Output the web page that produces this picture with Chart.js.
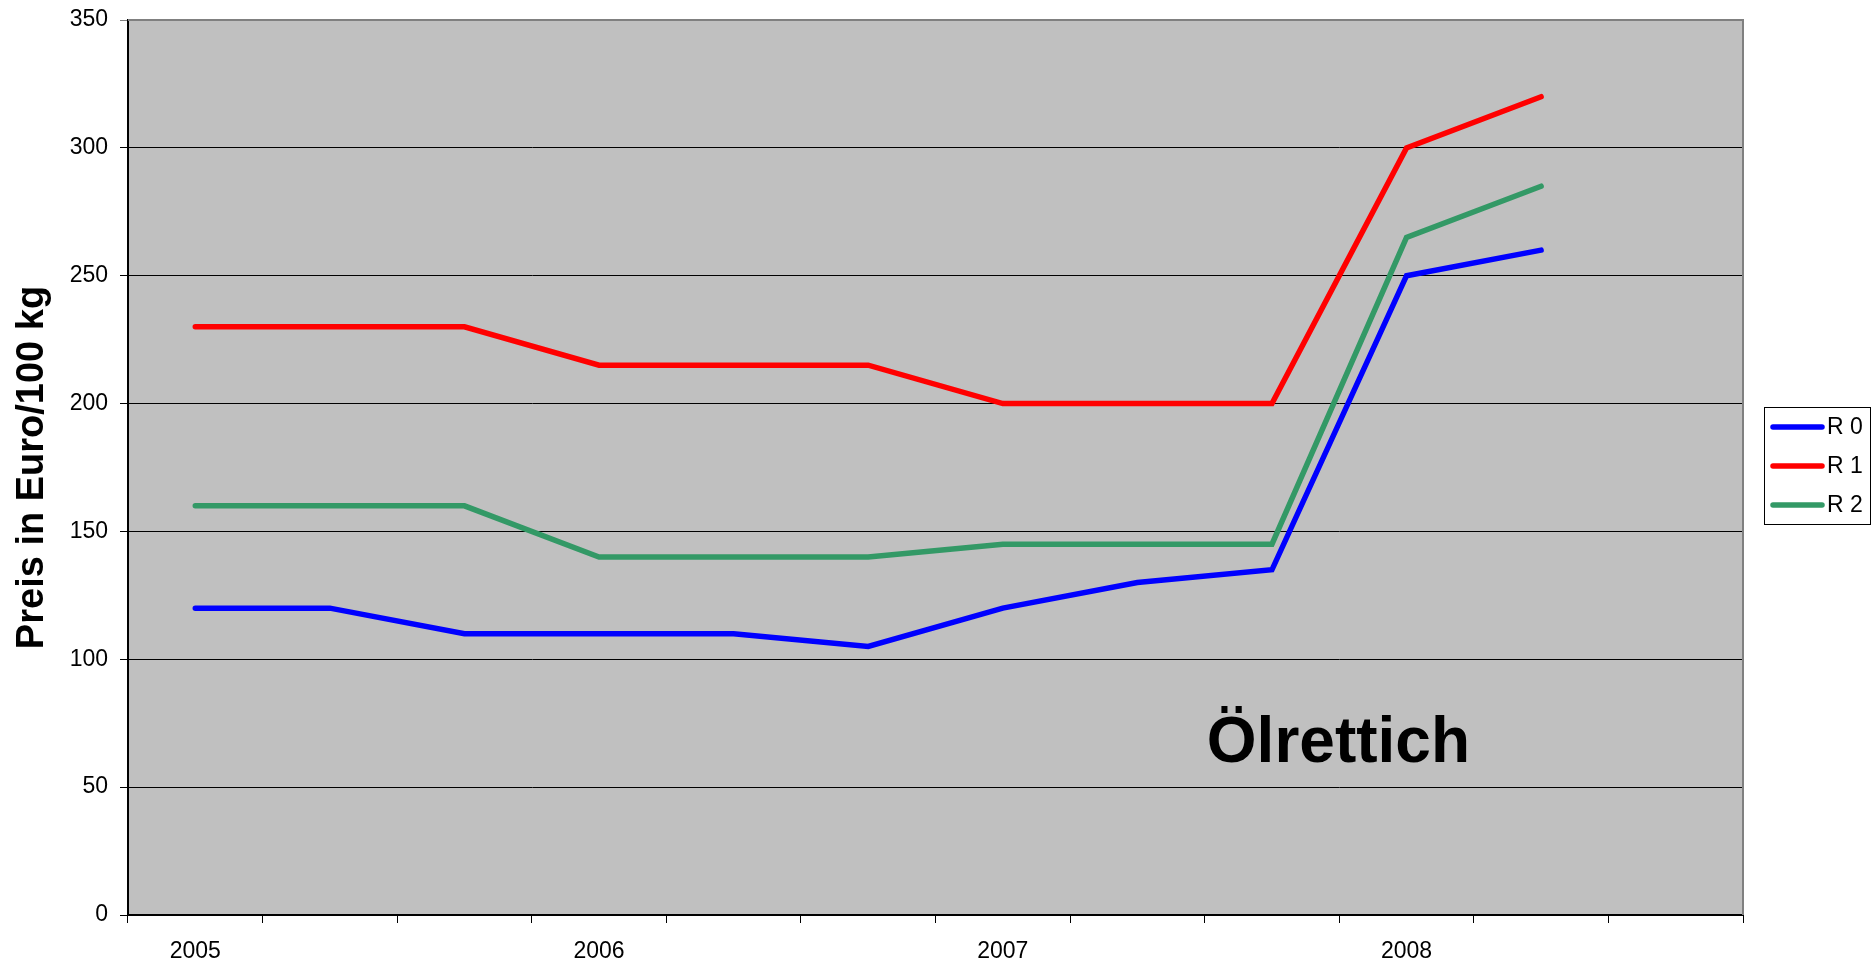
<!DOCTYPE html>
<html lang="de">
<head>
<meta charset="UTF-8">
<title>Ölrettich</title>
<script src="https://cdn.jsdelivr.net/npm/chart.js@4.4.0/dist/chart.umd.min.js"></script>
<style>
  html, body { margin: 0; padding: 0; background: #fff; }
  #wrap { width: 1871px; height: 966px; }
</style>
</head>
<body>
<div id="wrap"><canvas id="priceChart" width="1871" height="966"></canvas></div>
<script>
// categories (12 slots, a label every 3rd)
const categories = ['2005', '', '', '2006', '', '', '2007', '', '', '2008', '', ''];
// Preis in Euro/100 kg
const r0 = [120, 120, 110, 110, 110, 105, 120, 130, 135, 250, 260];
const r1 = [230, 230, 230, 215, 215, 215, 200, 200, 200, 300, 320];
const r2 = [160, 160, 160, 140, 140, 140, 145, 145, 145, 265, 285];
const seriesNames = ['R 0', 'R 1', 'R 2'];
const seriesColors = ['#0000FF', '#FF0000', '#339966'];
const yMin = 0, yMax = 350, yStep = 50;
const chartLabel = 'Ölrettich';

const FONT = '"Liberation Sans", Arial, sans-serif';

// grey plot background + grey frame on top/right
const plotBg = {
    id: 'plotBg',
    beforeDraw(chart) {
        const a = chart.chartArea, c = chart.ctx;
        c.save();
        c.fillStyle = '#C0C0C0';
        c.fillRect(a.left, a.top, a.right - a.left, a.bottom - a.top);
        c.restore();
    },
    beforeDatasetsDraw(chart) {
        const a = chart.chartArea, c = chart.ctx;
        c.save();
        c.strokeStyle = '#808080';
        c.lineWidth = 2;
        c.beginPath();
        c.moveTo(a.left, a.top);
        c.lineTo(a.right, a.top);
        c.lineTo(a.right, a.bottom);
        c.stroke();
        c.restore();
    }
};

// big product name inside the plot
const nameLabel = {
    id: 'nameLabel',
    afterDatasetsDraw(chart) {
        const a = chart.chartArea, c = chart.ctx;
        const x = a.left + (a.right - a.left) * 0.668;
        const y = chart.scales.y.getPixelForValue(60);
        c.save();
        c.font = 'bold 64px ' + FONT;
        c.fillStyle = '#000';
        c.textAlign = 'left';
        c.textBaseline = 'alphabetic';
        c.fillText(chartLabel, x, y);
        c.restore();
    }
};

// boxed legend on the right
const boxLegend = {
    id: 'boxLegend',
    afterDraw(chart) {
        const a = chart.chartArea, c = chart.ctx;
        const left = a.right + 21, w = 106, rowH = 39;
        const sets = chart.data.datasets;
        const h = rowH * sets.length;
        const top = Math.round((a.top + a.bottom) / 2 - h / 2) - 2;
        c.save();
        c.fillStyle = '#fff';
        c.fillRect(left, top, w, h);
        c.strokeStyle = '#000';
        c.lineWidth = 1;
        c.strokeRect(left + 0.5, top + 0.5, w, h);
        sets.forEach((ds, i) => {
            const y = top + 20 + i * rowH;
            c.strokeStyle = ds.borderColor;
            c.lineWidth = 5.5;
            c.lineCap = 'round';
            c.beginPath();
            c.moveTo(left + 9, y);
            c.lineTo(left + 58, y);
            c.stroke();
            c.fillStyle = '#000';
            c.font = '23px ' + FONT;
            c.textAlign = 'left';
            c.textBaseline = 'middle';
            c.fillText(ds.label, left + 63, y + 1);
        });
        c.restore();
    }
};

const ctx = document.getElementById('priceChart').getContext('2d');
new Chart(ctx, {
    type: 'line',
    data: {
        labels: categories,
        datasets: [r0, r1, r2].map((d, i) => ({
            label: seriesNames[i],
            data: d,
            borderColor: seriesColors[i],
            backgroundColor: seriesColors[i],
            borderWidth: 5.5,
            borderCapStyle: 'round',
            borderJoinStyle: 'miter',
            pointRadius: 0,
            tension: 0,
            fill: false
        }))
    },
    options: {
        responsive: false,
        animation: false,
        devicePixelRatio: 1,
        layout: { padding: { top: 20, right: 128, bottom: 0, left: 0 } },
        plugins: {
            legend: { display: false },
            tooltip: { enabled: false }
        },
        scales: {
            x: {
                type: 'category',
                offset: true,
                grid: {
                    offset: true,
                    drawOnChartArea: false,
                    drawTicks: true,
                    tickLength: 8,
                    color: '#000'
                },
                border: { color: '#000', width: 2 },
                ticks: {
                    autoSkip: false,
                    maxRotation: 0,
                    padding: 15,
                    color: '#000',
                    font: { family: FONT, size: 23 }
                },
                afterFit(s) { s.height = 51; s.paddingLeft = 0; s.paddingRight = 0; }
            },
            y: {
                min: yMin,
                max: yMax,
                ticks: {
                    stepSize: yStep,
                    padding: 12,
                    color: '#000',
                    font: { family: FONT, size: 23 }
                },
                grid: {
                    color: c => (c.tick && c.tick.value === yMax) ? '#808080' : '#000',
                    lineWidth: 1,
                    tickLength: 8
                },
                border: { color: '#000', width: 2 },
                title: {
                    display: true,
                    text: 'Preis in Euro/100 kg',
                    color: '#000',
                    font: { family: FONT, size: 38, weight: 'bold' },
                    padding: { top: 10, bottom: 0 }
                },
                afterFit(s) { s.width = 128; s.paddingTop = 0; s.paddingBottom = 0; }
            }
        }
    },
    plugins: [plotBg, nameLabel, boxLegend]
});
</script>
</body>
</html>
